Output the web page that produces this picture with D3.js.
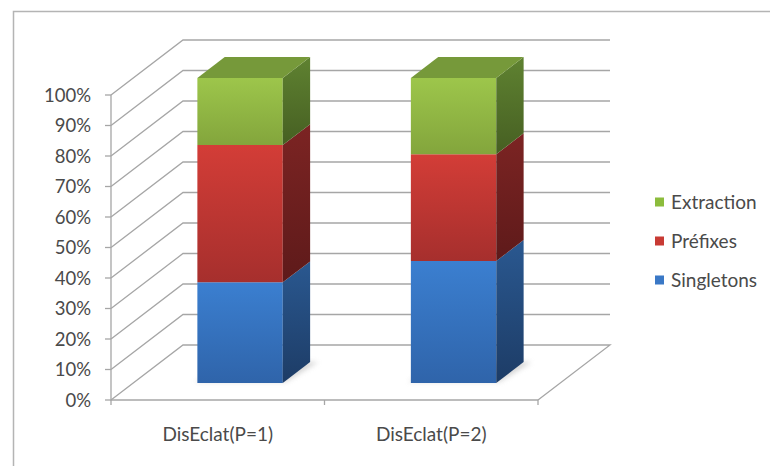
<!DOCTYPE html>
<html><head><meta charset="utf-8">
<script src="https://cdn.jsdelivr.net/npm/d3@7"></script>
<style>body{margin:0;background:#fff}svg{display:block}text{font-family:Lato,"Open Sans",sans-serif;fill:#4a4a4a}</style>
</head><body><svg id="c" width="770" height="466"></svg>
<script>
const categories = ["DisEclat(P=1)", "DisEclat(P=2)"];
const seriesNames = ["Singletons", "Préfixes", "Extraction"];
const singletons = [33, 40];
const prefixes = [45, 35];
const extraction = [22, 25];
const yTickValues = [0, 10, 20, 30, 40, 50, 60, 70, 80, 90, 100];
const seriesValues = [singletons, prefixes, extraction];

const colors = {
  "Singletons": {front: ["#3b7fd0", "#2f64aa"], side: ["#2a5890", "#1d3c66"]},
  "Préfixes": {front: ["#d33d37", "#a62f2d"], side: ["#7c2423", "#5e1a1a"]},
  "Extraction": {front: ["#9dc64b", "#83a53c"], side: ["#5f8231", "#465f22"], top: "#76993a"}
};
const legendColors = {"Extraction": "#8cbc3c", "Préfixes": "#c83a34", "Singletons": "#3a78c6"};

const svg = d3.select("#c");
const defs = svg.append("defs");
const DX = 72, DY = -55;
const dF = 0.31, dB = 0.69;

const y = d3.scaleLinear().domain([0, 100]).range([400, 95]);
const x = d3.scaleBand().domain(categories).range([111, 538]).paddingInner(0.6).paddingOuter(0.3);
const P = (px, v, d) => [px + d * DX, y(v) + d * DY];
const line = d3.line();

svg.append("path").attr("d", "M13.5,466 L13.5,11.5 L770,11.5").attr("fill", "none").attr("stroke", "#b4b4b4").attr("stroke-width", 1.5);

const grid = svg.append("g").attr("fill", "none").attr("stroke", "#a6a6a6").attr("stroke-width", 1.3);
const xL = 111, xR = 538;
yTickValues.forEach(v => {
  if (v === 0) return;
  grid.append("path").attr("d", line([P(xL, v, 0), P(xL, v, 1), P(xR, v, 1)]));
});
grid.append("path").attr("d", line([P(xL, 0, 0), P(xL, 0, 1), P(xR, 0, 1), P(xR, 0, 0)]));
grid.append("path").attr("d", line([[xL, y(100)], [xL, y(0)], [xR, y(0)]]));
yTickValues.forEach(v => grid.append("path").attr("d", line([[xL - 6, y(v)], [xL, y(v)]])));
[xL, (xL + xR) / 2, xR].forEach(px => grid.append("path").attr("d", line([[px, y(0)], [px, y(0) + 5]])));

svg.append("g").selectAll("text").data(yTickValues).join("text")
  .attr("x", 91).attr("y", v => y(v)).attr("dy", "0.36em").attr("text-anchor", "end")
  .attr("font-size", 18.5).text(v => v + "%");

svg.append("g").selectAll("text").data(categories).join("text")
  .attr("x", c => x(c) + x.bandwidth() / 2).attr("y", 434).attr("dy", "0.36em").attr("text-anchor", "middle")
  .attr("font-size", 19).text(c => c);

const f = defs.append("filter").attr("id", "blur").attr("x", "-20%").attr("y", "-50%").attr("width", "140%").attr("height", "200%");
f.append("feGaussianBlur").attr("stdDeviation", 2.5);

let gid = 0;
function grad(c0, c1) {
  const id = "g" + (gid++);
  const g = defs.append("linearGradient").attr("id", id).attr("x1", 0).attr("y1", 0).attr("x2", 0).attr("y2", 1);
  g.append("stop").attr("offset", 0).attr("stop-color", c0);
  g.append("stop").attr("offset", 1).attr("stop-color", c1);
  return "url(#" + id + ")";
}

const bars = svg.append("g");
categories.forEach((c, i) => {
  const x0 = x(c), x1 = x(c) + x.bandwidth();
  bars.append("path").attr("d", line([P(x0 - 4, 0, dF + 0.02), P(x1 + 2, 0, dF + 0.02), P(x1 + 8, 0, dB), P(x0 + 6, 0, dB)]) + "Z")
    .attr("fill", "#c4c4c4").attr("opacity", 0.7).attr("filter", "url(#blur)");
  let base = 0;
  seriesNames.forEach((s, k) => {
    const v = seriesValues[k][i];
    const top = base + v;
    const col = colors[s];
    bars.append("path").attr("d", line([P(x0, base, dF), P(x1, base, dF), P(x1, top, dF), P(x0, top, dF)]) + "Z")
      .attr("fill", grad(col.front[0], col.front[1]));
    bars.append("path").attr("d", line([P(x1, base, dF), P(x1, base, dB), P(x1, top, dB), P(x1, top, dF)]) + "Z")
      .attr("fill", grad(col.side[0], col.side[1]));
    if (k === seriesNames.length - 1) {
      bars.append("path").attr("d", line([P(x0, top, dF), P(x1, top, dF), P(x1, top, dB), P(x0, top, dB)]) + "Z")
        .attr("fill", col.top);
    }
    base = top;
  });
});

const legendOrder = ["Extraction", "Préfixes", "Singletons"];
const legendY = [202, 241, 280];
const lg = svg.append("g");
legendOrder.forEach((s, i) => {
  lg.append("rect").attr("x", 655).attr("y", legendY[i] - 4.5).attr("width", 9).attr("height", 9).attr("fill", legendColors[s]);
  lg.append("text").attr("x", 671).attr("y", legendY[i]).attr("dy", "0.36em").attr("font-size", 19).text(s);
});
</script></body></html>
